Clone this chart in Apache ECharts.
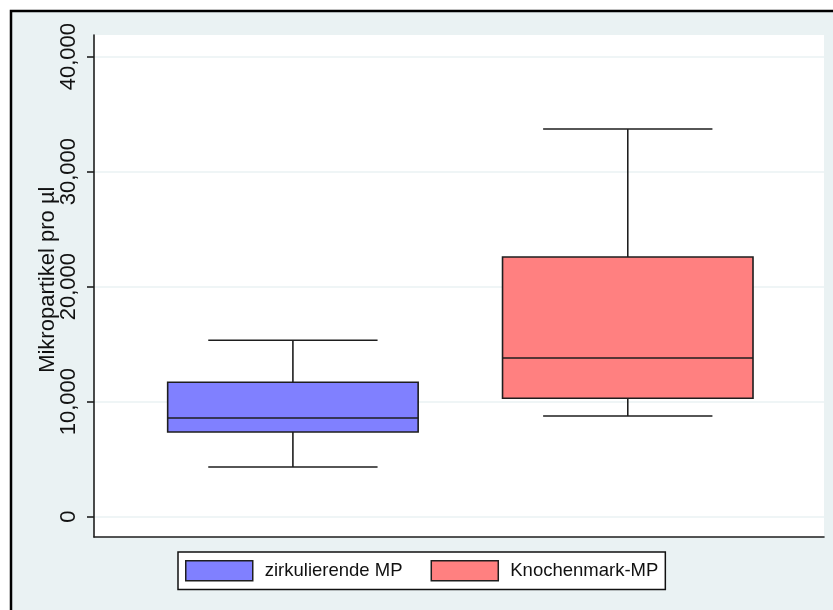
<!DOCTYPE html>
<html>
<head>
<meta charset="utf-8">
<script src="https://cdn.jsdelivr.net/npm/echarts@6/dist/echarts.min.js"></script>
<style>
html, body { margin: 0; padding: 0; background: #fff; }
#chart { width: 833px; height: 610px; }
</style>
</head>
<body>
<div id="chart"></div>
<script>
// group names (legend)
const groups = ['zirkulierende MP', 'Knochenmark-MP']
// box positions on the (hidden) x scale
const positions = [1, 2]
// [lower whisker, Q1, median, Q3, upper whisker]
const zirkulierend = [4320, 7370, 8580, 11690, 15340]
const knochenmark = [8760, 10300, 13800, 22580, 33710]
// y axis ticks
const yTicks = [0, 10000, 20000, 30000, 40000]

const colors = ['#8080ff', '#ff8080']
const lineColor = '#1e1e1e'
const font = 'Liberation Sans, Arial, sans-serif'

function renderBox(params, api){
    const x = api.value(0)
    const low = api.coord([x, api.value(1)])
    const q1 = api.coord([x, api.value(2)])
    const med = api.coord([x, api.value(3)])
    const q3 = api.coord([x, api.value(4)])
    const high = api.coord([x, api.value(5)])
    const unit = api.size([1, 0])[0]
    const boxHalf = unit * 0.374
    const capHalf = unit * 0.2528
    const cx = low[0]
    const ls = { stroke: lineColor, lineWidth: 1.6 }
    return {
        type: 'group',
        children: [
            { type: 'line', shape: { x1: cx, y1: high[1], x2: cx, y2: q3[1] }, style: ls },
            { type: 'line', shape: { x1: cx, y1: q1[1], x2: cx, y2: low[1] }, style: ls },
            { type: 'line', shape: { x1: cx - capHalf, y1: high[1], x2: cx + capHalf, y2: high[1] }, style: ls },
            { type: 'line', shape: { x1: cx - capHalf, y1: low[1], x2: cx + capHalf, y2: low[1] }, style: ls },
            {
                type: 'rect',
                shape: { x: cx - boxHalf, y: q3[1], width: boxHalf * 2, height: q1[1] - q3[1] },
                style: { fill: api.visual('color'), stroke: lineColor, lineWidth: 1.6 }
            },
            { type: 'line', shape: { x1: cx - boxHalf, y1: med[1], x2: cx + boxHalf, y2: med[1] }, style: ls },
        ]
    }
}

const chart = echarts.init(document.getElementById('chart'))
const option = {
    animation: false,
    backgroundColor: '#fff',
    graphic: [{
        type: 'rect',
        z: -10,
        silent: true,
        shape: { x: 11, y: 11, width: 860, height: 640 },
        style: { fill: '#eaf2f3', stroke: '#000', lineWidth: 2.5 }
    }],
    grid: [
        // outer plot region (white area + axis lines)
        { left: 94, right: 9, top: 35, bottom: 73, show: true, backgroundColor: '#fff', borderWidth: 0 },
        // inner region spanning 0..40000
        { left: 94, right: 9, top: 56.7, bottom: 93.3 }
    ],
    xAxis: [
        {
            gridIndex: 0, type: 'value', min: 0, max: 1,
            axisLine: { show: true, onZero: false, lineStyle: { color: lineColor, width: 1.6 } },
            axisTick: { show: false }, axisLabel: { show: false }, splitLine: { show: false }
        },
        {
            gridIndex: 1, type: 'value', min: 0.406, max: 2.586, show: false
        }
    ],
    yAxis: [
        {
            gridIndex: 0, type: 'value', min: -1765, max: 41887,
            axisLine: { show: true, lineStyle: { color: lineColor, width: 1.6 } },
            axisTick: { show: false }, axisLabel: { show: false }, splitLine: { show: false }
        },
        {
            gridIndex: 1, type: 'value', min: yTicks[0], max: yTicks[yTicks.length - 1], interval: 10000,
            name: 'Mikropartikel pro µl',
            nameLocation: 'middle',
            nameGap: 35,
            nameMoveOverlap: false,
            nameTextStyle: { color: '#111', fontSize: 22, fontFamily: font, padding: [0, 0, 0, 14] },
            axisLine: { show: false },
            axisTick: { show: true, length: 7, lineStyle: { color: lineColor, width: 1.6 } },
            axisLabel: {
                rotate: 90, margin: 14, color: '#111', fontSize: 22, fontFamily: font,
                formatter: v => v.toLocaleString('en-US')
            },
            splitLine: { show: true, lineStyle: { color: '#eaf2f3', width: 1.5 } }
        }
    ],
    legend: {
        left: 178,
        top: 552,
        orient: 'horizontal',
        backgroundColor: '#fff',
        borderColor: '#111',
        borderWidth: 1.5,
        borderRadius: 0,
        padding: [8, 7, 8, 7],
        itemWidth: 67,
        itemHeight: 20,
        itemGap: 28,
        icon: 'rect',
        textStyle: { color: '#111', fontSize: 18.5, fontFamily: font, padding: [0, 0, 0, 7] },
        data: groups.map((g, i) => ({ name: g, itemStyle: { color: colors[i], borderColor: lineColor, borderWidth: 1.5 } }))
    },
    series: [
        {
            name: groups[0], type: 'custom', xAxisIndex: 1, yAxisIndex: 1,
            itemStyle: { color: colors[0] },
            renderItem: renderBox,
            data: [[positions[0], ...zirkulierend]]
        },
        {
            name: groups[1], type: 'custom', xAxisIndex: 1, yAxisIndex: 1,
            itemStyle: { color: colors[1] },
            renderItem: renderBox,
            data: [[positions[1], ...knochenmark]]
        }
    ]
}
chart.setOption(option)
</script>
</body>
</html>
